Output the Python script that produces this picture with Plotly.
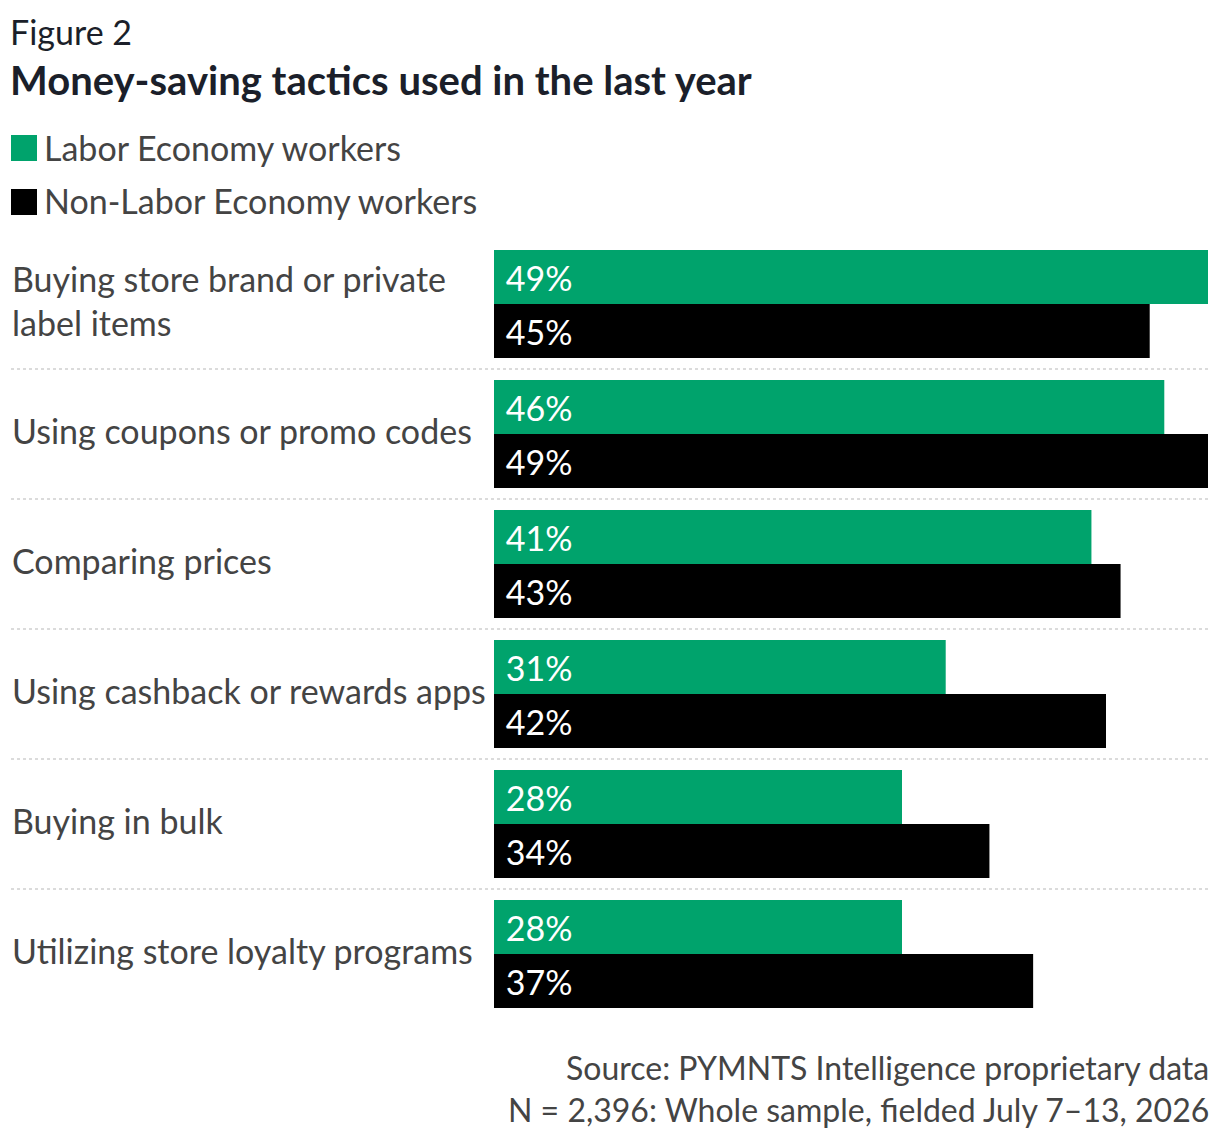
import plotly.graph_objects as go

# data
categories = [
    "Buying store brand or private<br>label items",
    "Using coupons or promo codes",
    "Comparing prices",
    "Using cashback or rewards apps",
    "Buying in bulk",
    "Utilizing store loyalty programs",
]
labor = [49, 46, 41, 31, 28, 28]
non_labor = [45, 49, 43, 42, 34, 37]
series_names = ["Labor Economy workers", "Non-Labor Economy workers"]

GREEN = "#00a36c"
BLACK = "#000000"
TEXT = "#444444"
DARK = "#1b1f2a"
FONT = "Lato, 'Open Sans', sans-serif"

# page has an 8px body margin, so the figure is a bit smaller than the window
W, H = 1204, 1120
L, R, T, B = 0, 4, 231, 109
PW = W - L - R
PH = H - T - B
OFF = 8


def px(x):
    # x pixel in the screenshot -> paper x
    return (x - OFF) / PW


def py(y):
    # y pixel in the screenshot -> paper y
    return (H - B - (y - OFF)) / PH


fig = go.Figure()
for name, vals, col in [(series_names[0], labor, GREEN), (series_names[1], non_labor, BLACK)]:
    fig.add_trace(go.Bar(
        y=categories, x=vals, name=name, orientation="h",
        marker=dict(color=col, line=dict(width=0)),
        text=["\u00a0" + str(v) + "%" for v in vals],
        textposition="inside", insidetextanchor="start",
        textfont=dict(color="white", size=34, family=FONT),
        showlegend=False,
    ))

# dotted separators between the groups
shapes = []
for i in range(len(categories) - 1):
    shapes.append(dict(type="line", xref="paper", yref="y",
                       x0=px(11), x1=1, y0=i + 0.5, y1=i + 0.5,
                       line=dict(color="#cfcfcf", width=1.5, dash="dot")))

# hand-drawn legend squares
for k, col in enumerate([GREEN, BLACK]):
    top = 135 + 54 * k
    shapes.append(dict(type="rect", xref="paper", yref="paper",
                       x0=px(11), x1=px(37), y0=py(top + 26), y1=py(top),
                       fillcolor=col, line=dict(width=0)))

annotations = []
for k, name in enumerate(series_names):
    annotations.append(dict(text=name, xref="paper", yref="paper",
                            x=px(42), y=py(147 + 54 * k), xanchor="left", yanchor="middle",
                            showarrow=False, font=dict(size=34, color=TEXT, family=FONT)))

for c in categories:
    annotations.append(dict(text=c, xref="paper", yref="y", x=px(10), y=c,
                            xanchor="left", yanchor="middle", align="left", yshift=4,
                            showarrow=False, font=dict(size=34, color=TEXT, family=FONT)))

annotations.append(dict(text="Figure 2", xref="paper", yref="paper", x=px(8), y=py(31),
                        xanchor="left", yanchor="middle", showarrow=False,
                        font=dict(size=34, color=DARK, family=FONT)))
annotations.append(dict(text="<b>Money-saving tactics used in the last year</b>",
                        xref="paper", yref="paper", x=px(8), y=py(80),
                        xanchor="left", yanchor="middle", showarrow=False,
                        font=dict(size=40, color=DARK, family=FONT)))
annotations.append(dict(text="Source: PYMNTS Intelligence proprietary data<br>"
                             "N = 2,396: Whole sample, fielded July 7\u201313, 2026",
                        xref="paper", yref="paper", x=1, y=py(1088), xshift=3,
                        xanchor="right", yanchor="middle", align="right", showarrow=False,
                        font=dict(size=32, color=TEXT, family=FONT)))

fig.update_layout(
    width=W, height=H,
    margin=dict(l=L, r=R, t=T, b=B),
    paper_bgcolor="white", plot_bgcolor="white",
    barmode="group", bargap=22 / 130, bargroupgap=0,
    xaxis=dict(domain=[px(494), 1], range=[0, 49], visible=False, fixedrange=True),
    yaxis=dict(autorange="reversed", showticklabels=False, showgrid=False,
               zeroline=False, ticks="", fixedrange=True),
    shapes=shapes, annotations=annotations,
    font=dict(family=FONT),
)

fig.write_html("out.html")
